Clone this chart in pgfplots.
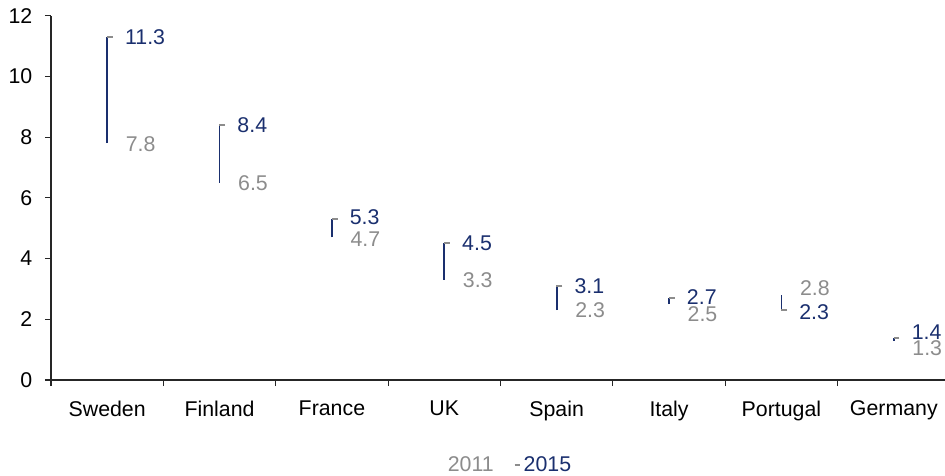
\documentclass[border=0pt]{standalone}
\usepackage{pgfplots}
\pgfplotsset{compat=1.18}
\usepackage{fontspec}
\setmainfont{Liberation Sans}
\definecolor{navy}{HTML}{1A2F6E}
\definecolor{lgrey}{HTML}{8C8C8C}
\definecolor{axgrey}{HTML}{262626}
\begin{document}
\begin{tikzpicture}[font=\fontsize{16}{19}\selectfont]
\begin{axis}[
  scale only axis, width=674.25pt, height=273.2pt,
  xmin=0, xmax=8, ymin=0, ymax=12,
  axis x line*=bottom, axis y line*=left,
  axis line style={axgrey, line width=0.9pt, -},
  xtick={0.5,1.5,...,7.5},
  xticklabels={Sweden,Finland,France,UK,Spain,Italy,Portugal,Germany},
  minor xtick={0,1,...,8},
  ytick={0,2,...,12},
  tick align=outside,
  major tick length=4.5pt, minor tick length=4.5pt,
  major x tick style={draw=none},
  tick style={axgrey, line width=0.9pt},
  /pgf/number format/assume math mode=true,
  tick label style={font=\fontsize{16}{19}\selectfont, text=black},
  xticklabel style={yshift=-7.5pt},
  yticklabel style={xshift=-6pt},
  legend columns=2,
  legend style={draw=none, fill=none, at={(rel axis cs:0.510,-0.234)}, anchor=center,
    font=\fontsize{16}{19}\selectfont,
    /tikz/every even column/.append style={column sep=13pt}},
]
\addlegendimage{empty legend}
\addlegendentry{\textcolor{lgrey}{2011}}
% connecting lines 2011 -> 2015
\addplot[navy, line width=1.3pt, unbounded coords=jump, forget plot] coordinates {
(0.5,7.8) (0.5,11.3) (0.5,nan)
(1.5,6.5) (1.5,8.4) (1.5,nan)
(2.5,4.7) (2.5,5.3) (2.5,nan)
(3.5,3.3) (3.5,4.5) (3.5,nan)
(4.5,2.3) (4.5,3.1) (4.5,nan)
(5.5,2.5) (5.5,2.7) (5.5,nan)
(6.5,2.8) (6.5,2.3) (6.5,nan)
(7.5,1.3) (7.5,1.4)
};
% 2015 markers
\addplot[only marks, mark=-, mark size=2.2pt, mark options={lgrey, line width=1.5pt, xshift=2pt},
  legend image code/.code={\draw[lgrey, line width=1.5pt] (-2pt,0) -- (2pt,0);}]
coordinates {(0.5,11.3) (1.5,8.4) (2.5,5.3) (3.5,4.5) (4.5,3.1) (5.5,2.7) (6.5,2.3) (7.5,1.4)};
\addlegendentry{\textcolor{navy}{2015}}
% 2015 labels
\addplot[draw=none, mark=none, forget plot, nodes near coords, point meta=explicit symbolic,
  nodes near coords style={anchor=west, xshift=13.25pt, inner sep=0pt, text=navy,
    font=\fontsize{16}{19}\selectfont}]
table[meta=l] {
x y l
0.5 11.3 11.3
1.5 8.38 8.4
2.5 5.37 5.3
3.5 4.5 4.5
4.5 3.1 3.1
5.5 2.74 2.7
6.5 2.24 2.3
7.5 1.58 1.4
};
% 2011 labels
\addplot[draw=none, mark=none, forget plot, nodes near coords, point meta=explicit symbolic,
  nodes near coords style={anchor=west, xshift=13.75pt, inner sep=0pt, text=lgrey,
    font=\fontsize{16}{19}\selectfont}]
table[meta=l] {
x y l
0.5 7.78 7.8
1.5 6.5 6.5
2.5 4.65 4.7
3.5 3.3 3.3
4.5 2.3 2.3
5.5 2.18 2.5
6.5 3.03 2.8
7.5 1.05 1.3
};
\end{axis}
\pgfresetboundingbox
\path (-38.25pt,-71.25pt) rectangle (670.5pt,285pt);
\end{tikzpicture}
\end{document}
